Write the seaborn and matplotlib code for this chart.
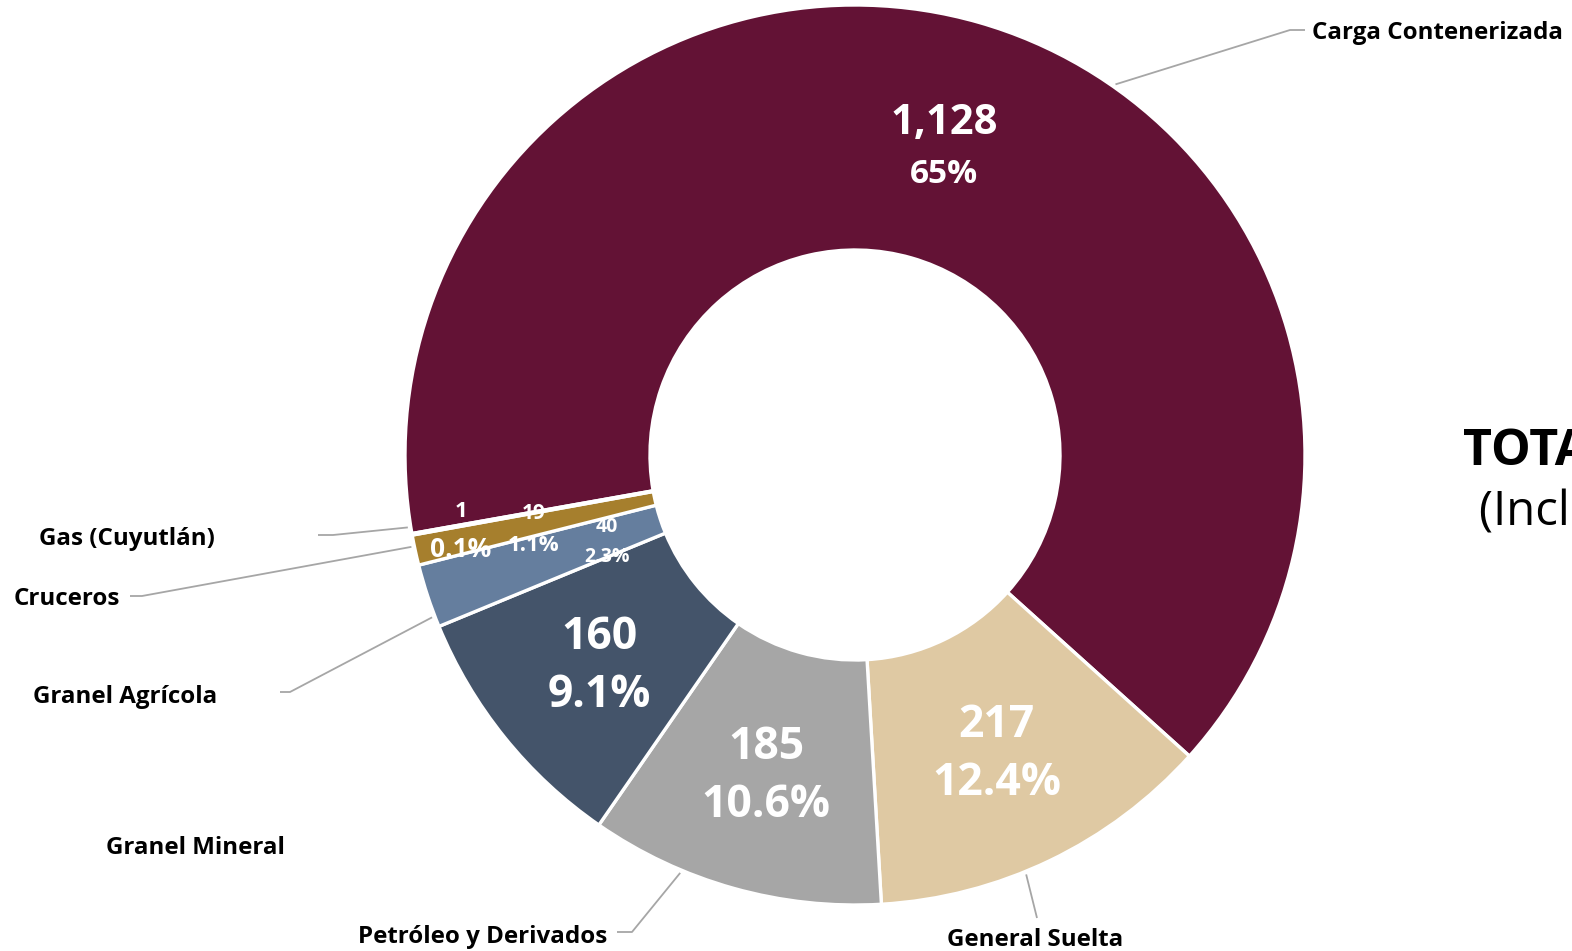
import numpy as np
import matplotlib
matplotlib.use("Agg")
import matplotlib.pyplot as plt
import seaborn as sns

# Datos
categorias = ['Carga Contenerizada', 'General Suelta', 'Petróleo y Derivados',
              'Granel Mineral', 'Granel Agrícola', 'Cruceros', 'Gas (Cuyutlán)']
valores = [1128, 217, 185, 160, 40, 19, 1]
etiquetas_valor = ['1,128', '217', '185', '160', '40', '19', '1']
etiquetas_pct = ['65%', '12.4%', '10.6%', '9.1%', '2.3%', '1.1%', '0.1%']

# Estilo
sns.set_theme(style='white')
plt.rcParams['font.family'] = ['Open Sans', 'DejaVu Sans']

colores = sns.color_palette(['#631235', '#DFC9A3', '#A6A6A6', '#44546A',
                             '#657E9E', '#A67F2D', '#D9D9D9'])

W, H = 1572, 951
fig = plt.figure(figsize=(W / 100, H / 100), dpi=100)
ax = fig.add_axes([0, 0, 1, 1])

cx, cy = 855, H - 455
R = 450
ancho = 245

wedges, _ = ax.pie(valores, colors=colores, startangle=190.05, counterclock=False,
                   center=(cx, cy), radius=R,
                   wedgeprops=dict(width=ancho, edgecolor='white', linewidth=2.4))

ax.set_xlim(0, W)
ax.set_ylim(0, H)
ax.set_aspect('equal')
ax.axis('off')

# Etiquetas dentro de la dona
frac_r = [0.72, 0.725, 0.73, 0.73, 0.58, 0.73, 0.89]
tam_val = [30, 32, 32, 32, 14, 15, 16]
tam_pct = [24, 32, 32, 32, 14, 16, 19]
sep = [51, 58, 58, 58, 30, 32, 38]
baja = 5  # ajuste vertical

for i, w in enumerate(wedges):
    a = np.deg2rad((w.theta1 + w.theta2) / 2)
    r = R * frac_r[i]
    x = cx + r * np.cos(a)
    y = cy + r * np.sin(a) - baja
    ax.text(x, y + sep[i] / 2, etiquetas_valor[i], ha='center', va='center',
            color='white', fontsize=tam_val[i], fontweight='bold')
    ax.text(x, y - sep[i] / 2, etiquetas_pct[i], ha='center', va='center',
            color='white', fontsize=tam_pct[i], fontweight='bold')

# Nombres con lineas guia (angulo de anclaje, codo, texto, alineacion)
guias = {
    'Carga Contenerizada': (54.9, [(1290, 30), (1305, 30)], (1312, 30), 'left'),
    'General Suelta': (-67.8, [(1037, 918)], (1035, 937), 'center'),
    'Petróleo y Derivados': (-112.7, [(632, 932), (617, 932)], (607, 934), 'right'),
    'Granel Mineral': (None, [], (195, 845), 'center'),
    'Granel Agrícola': (-159.0, [(290, 692), (280, 692)], (125, 694), 'center'),
    'Cruceros': (-168.3, [(142, 596), (130, 596)], (67, 596), 'center'),
    'Gas (Cuyutlán)': (-170.8, [(333, 535), (318, 535)], (127, 536), 'center'),
}

for nombre in categorias:
    ang, codo, pos, alin = guias[nombre]
    if ang is not None:
        t = np.deg2rad(ang)
        xs = [cx + (R + 3) * np.cos(t)] + [p[0] for p in codo]
        ys = [cy + (R + 3) * np.sin(t)] + [H - p[1] for p in codo]
        ax.plot(xs, ys, color='#A6A6A6', linewidth=1.3, solid_capstyle='butt')
    ax.text(pos[0], H - pos[1] - 3, nombre, ha=alin, va='center', color='black',
            fontsize=17.4, fontweight='bold')

# Total (cortado en el borde derecho, como en la imagen original)
ax.text(1463, H - 452, 'TOTAL: 1,750', ha='left', va='center', color='black',
        fontsize=36, fontweight='bold')
ax.text(1479, H - 512, '(Incluye todos los puertos)', ha='left', va='center',
        color='black', fontsize=34)

fig.savefig('out.png', dpi=100, facecolor='white')
